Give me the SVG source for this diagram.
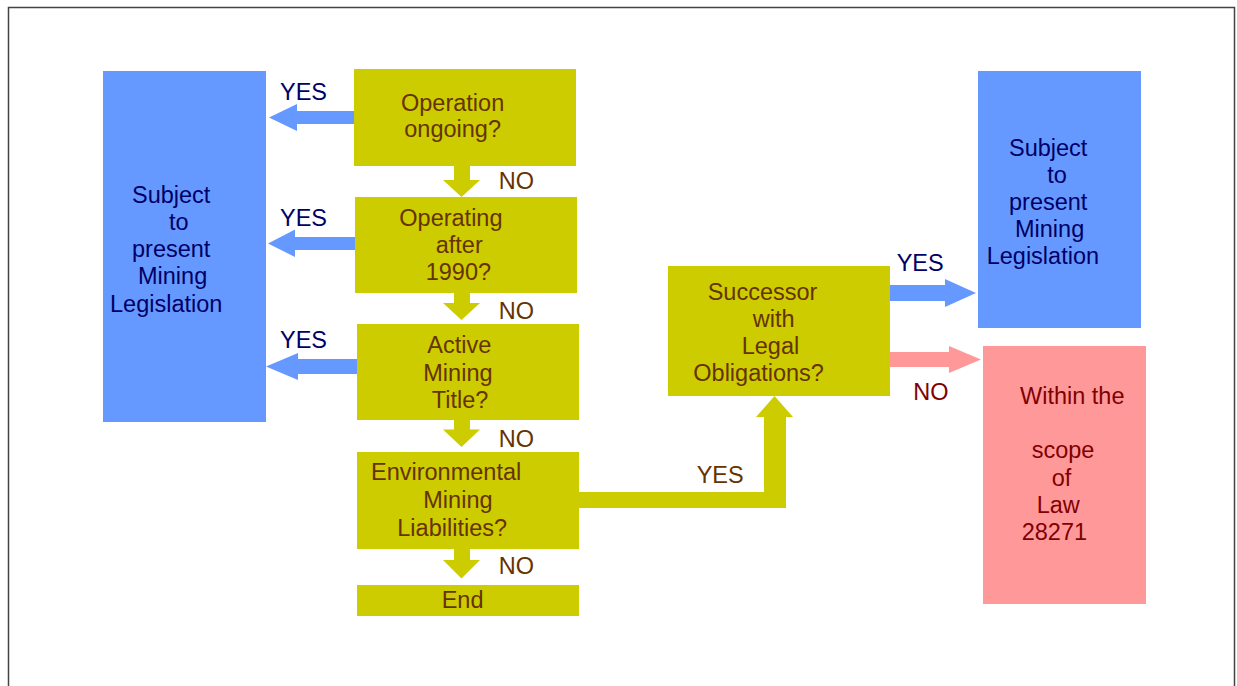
<svg xmlns="http://www.w3.org/2000/svg" width="1237" height="686" viewBox="0 0 1237 686">
<style>
text{font-family:"Liberation Sans",Arial,sans-serif;font-size:23.5px}
.q{fill:#CCCC00}
.b{fill:#6699FF}
.p{fill:#FF9999}
.tq{fill:#663300}
.tb{fill:#000066}
.tp{fill:#800000}
</style>
<rect x="0" y="0" width="1237" height="686" fill="#fff"/>
<path d="M8.5,686 V7.5 H1234.5 V686" fill="none" stroke="#444" stroke-width="1.5"/>
<g id="connectors">
<polygon class="b" points="354,111 297,111 297,104 269,117.5 297,131 297,124 354,124"/>
<polygon class="b" points="355,237 295,237 295,229.5 268,243.5 295,257 295,250 355,250"/>
<polygon class="b" points="357,359 298,359 298,353 266,366.5 298,380 298,374 357,374"/>
<polygon class="q" points="454,165 470,165 470,180 480,180 461.5,197 443,180 454,180"/>
<polygon class="q" points="454,293 470,293 470,303 480,303 461.5,320 443,303 454,303"/>
<polygon class="q" points="454,420 470,420 470,429.5 480,429.5 461.5,447 443,429.5 454,429.5"/>
<polygon class="q" points="454,548 470,548 470,560 480,560 461.5,578.5 443,560 454,560"/>
<polygon class="q" points="579,492 764,492 764,417 756,417 774.5,396 793,417 786,417 786,508 579,508"/>
<polygon class="b" points="890,285 945,285 945,279 976,293 945,307 945,301 890,301"/>
<polygon class="p" points="890,352 949,352 949,346 981,359.5 949,373 949,367 890,367"/>
<text class="tb" x="280" y="100">YES</text>
<text class="tb" x="280" y="225.7">YES</text>
<text class="tb" x="280" y="347.7">YES</text>
<text class="tq" x="498.7" y="189.3">NO</text>
<text class="tq" x="498.7" y="318.5">NO</text>
<text class="tq" x="498.7" y="446.7">NO</text>
<text class="tq" x="498.7" y="574.3">NO</text>
<text class="tq" x="696.7" y="483.3">YES</text>
<text class="tb" x="896.7" y="271">YES</text>
<text class="tp" x="913.3" y="400">NO</text>
</g>
<g id="left-legislation">
<rect class="b" x="103" y="71" width="163" height="351"/>
<text class="tb"><tspan x="132" y="202.7">Subject</tspan><tspan x="169" y="230">to</tspan><tspan x="132" y="257">present</tspan><tspan x="138" y="284.3">Mining</tspan><tspan x="110" y="311.7">Legislation</tspan></text>
</g>
<g id="operation-ongoing">
<rect class="q" x="354" y="69" width="222" height="97"/>
<text class="tq"><tspan x="401" y="111">Operation</tspan><tspan x="404.3" y="136.7">ongoing?</tspan></text>
</g>
<g id="operating-after-1990">
<rect class="q" x="355" y="197" width="222" height="96"/>
<text class="tq"><tspan x="399.3" y="225.7">Operating</tspan><tspan x="435.7" y="252.7">after</tspan><tspan x="425.7" y="280">1990?</tspan></text>
</g>
<g id="active-mining-title">
<rect class="q" x="357" y="324" width="222" height="96"/>
<text class="tq"><tspan x="427.3" y="352.7">Active</tspan><tspan x="423.3" y="380.7">Mining</tspan><tspan x="431.7" y="407.7">Title?</tspan></text>
</g>
<g id="environmental-liabilities">
<rect class="q" x="357" y="452" width="222" height="97"/>
<text class="tq"><tspan x="371" y="480">Environmental</tspan><tspan x="423.3" y="507.5">Mining</tspan><tspan x="397.3" y="535.7">Liabilities?</tspan></text>
</g>
<g id="end">
<rect class="q" x="357" y="585" width="222" height="31"/>
<text class="tq" x="441.7" y="608.3">End</text>
</g>
<g id="successor">
<rect class="q" x="668" y="266" width="222" height="130"/>
<text class="tq"><tspan x="707.7" y="300">Successor</tspan><tspan x="752.7" y="326.7">with</tspan><tspan x="741.7" y="353.5">Legal</tspan><tspan x="693.3" y="380.7">Obligations?</tspan></text>
</g>
<g id="right-legislation">
<rect class="b" x="978" y="71" width="163" height="257"/>
<text class="tb"><tspan x="1009" y="156">Subject</tspan><tspan x="1047.3" y="183.3">to</tspan><tspan x="1009" y="209.8">present</tspan><tspan x="1015" y="236.7">Mining</tspan><tspan x="986.7" y="264.3">Legislation</tspan></text>
</g>
<g id="law-28271">
<rect class="p" x="983" y="346" width="163" height="258"/>
<text class="tp"><tspan x="1020" y="404">Within the</tspan><tspan x="1031.7" y="458.3">scope</tspan><tspan x="1051.7" y="485.7">of</tspan><tspan x="1036.7" y="512.7">Law</tspan><tspan x="1021.7" y="540">28271</tspan></text>
</g>
</svg>
